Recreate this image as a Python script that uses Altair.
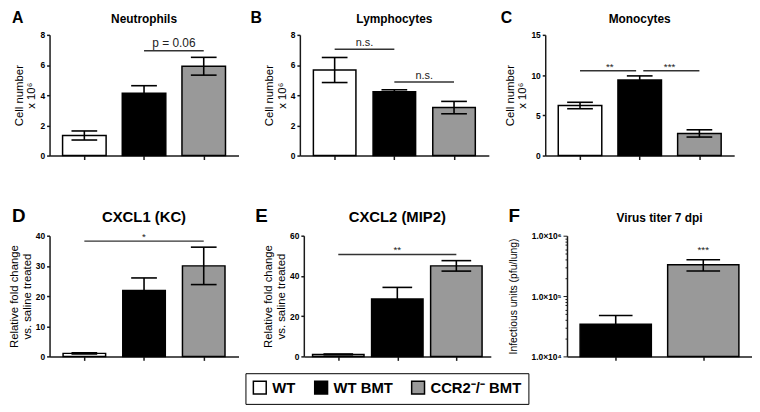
import altair as alt
import pandas as pd

FONT = "Liberation Sans"
AX = "#1a1a1a"

# ---------------- data ----------------
groups = ["WT", "WT BMT", "CCR2\u207b/\u207b BMT"]
group_colors = ["#ffffff", "#000000", "#999999"]

letters = ["A", "B", "C", "D", "E", "F"]
titles = ["Neutrophils", "Lymphocytes", "Monocytes", "CXCL1 (KC)", "CXCL2 (MIP2)", "Virus titer 7 dpi"]

neut_mean = [1.33, 4.13, 5.92]
neut_sem = [0.30, 0.50, 0.59]

lymph_mean = [5.67, 4.23, 3.18]
lymph_sem = [0.83, 0.13, 0.41]

mono_mean = [6.22, 9.40, 2.75]
mono_sem = [0.40, 0.50, 0.45]

cxcl1_mean = [1.0, 21.8, 30.0]
cxcl1_sem = [0.2, 4.2, 6.2]

cxcl2_mean = [1.0, 28.5, 45.0]
cxcl2_sem = [0.2, 5.8, 2.6]

virus_groups = ["WT BMT", "CCR2\u207b/\u207b BMT"]
virus_mean = [3.4e4, 3.3e5]
virus_sem = [1.35e4, 0.7e5]

# significance annotations: from x1 to x2 at y, label at lx
sig_A = {"x1": [1], "x2": [2], "y": [6.95], "label": ["p = 0.06"], "lx": [1.5]}
sig_B = {"x1": [0, 1], "x2": [1, 2], "y": [7.05, 4.87], "label": ["n.s.", "n.s."], "lx": [0.5, 1.5]}
sig_C = {"x1": [0, 1.06], "x2": [0.94, 2], "y": [10.55, 10.55], "label": ["**", "***"], "lx": [0.5, 1.5]}
sig_D = {"x1": [0], "x2": [2], "y": [38.2], "label": ["*"], "lx": [1]}
sig_E = {"x1": [0], "x2": [2], "y": [50.7], "label": ["**"], "lx": [1]}
sig_F = {"label": ["***"], "lx": [1], "y": [5.0e5]}

color_scale = alt.Scale(domain=groups, range=group_colors)
legend = alt.Legend(
    orient="none", legendX=198, legendY=342, direction="horizontal", title=None,
    strokeColor="black", padding=7, symbolType="square", symbolSize=169,
    symbolStrokeColor="black", symbolStrokeWidth=1.5, symbolOpacity=1,
    labelFont=FONT, labelFontSize=15, labelFontWeight="bold", labelColor="black",
    columnPadding=16, labelOffset=5,
)


def make_panel(letter, title, grp, mean, sem, ydomain, ytitle, width, height,
               bar_w, cap_w, letter_x, letter_size, title_size, title_pad, head_y,
               yticks=None, ylog=False, sig=None, sig_size=10, sig_dy=-1, title_font_size=11.5):
    n = len(grp)
    df = pd.DataFrame({
        "idx": list(range(n)), "group": grp, "mean": mean,
        "lo": [m - s for m, s in zip(mean, sem)],
        "hi": [m + s for m, s in zip(mean, sem)],
    })
    xscale = alt.Scale(domain=[-0.5, n - 0.5], nice=False, zero=False)
    xaxis = alt.Axis(values=list(range(n)), tickCount=n, labels=False, title=None, tickSize=4,
                     tickWidth=1.5, tickColor=AX, domainColor=AX, domainWidth=1.5, grid=False)
    yax = dict(title=ytitle, titleFont=FONT, titleFontSize=title_font_size, titleFontWeight="normal",
               titleColor="black", titlePadding=title_pad, titleLineHeight=13,
               labelFont=FONT, labelFontSize=8.5,
               labelFontWeight="bold", labelColor="black", labelPadding=2, tickSize=3,
               tickWidth=1.5, tickColor=AX, domainColor=AX, domainWidth=1.5, grid=False,
               labelOverlap=False)
    if ylog:
        yscale = alt.Scale(type="log", domain=ydomain, nice=False)
        is_pow = "abs(log(datum.value)/LN10 - round(log(datum.value)/LN10)) < 0.0001"
        yax["labelExpr"] = ("datum.value == 1000000 ? '1.0\u00d710\u2076' : datum.value == 100000 ? "
                            "'1.0\u00d710\u2075' : datum.value == 10000 ? '1.0\u00d710\u2074' : ''")
        yax["tickSize"] = {"condition": {"test": is_pow, "value": 4}, "value": 2}
        yax["tickWidth"] = 1
        yax["tickCount"] = 20
    else:
        yscale = alt.Scale(domain=ydomain, nice=False, zero=True)
        yax["values"] = yticks
        yax["tickCount"] = len(yticks)
    yaxis = alt.Axis(**yax)

    base = alt.Chart(df)
    bars = base.mark_bar(width=bar_w, stroke="black", strokeWidth=1.5).encode(
        x=alt.X("idx:Q", scale=xscale, axis=xaxis),
        y=alt.Y("mean:Q", scale=yscale, axis=yaxis),
        y2=alt.Y2(datum=ydomain[0]),
        color=alt.Color("group:N", scale=color_scale, legend=legend),
    )
    err = base.mark_rule(color="black", strokeWidth=1.6).encode(
        x="idx:Q", y="lo:Q", y2="hi:Q")
    cap_hi = base.mark_rule(color="black", strokeWidth=1.6, xOffset=-cap_w / 2,
                            x2Offset=cap_w / 2).encode(x="idx:Q", x2="idx:Q", y="hi:Q")
    cap_lo = base.mark_rule(color="black", strokeWidth=1.6, xOffset=-cap_w / 2,
                            x2Offset=cap_w / 2).encode(x="idx:Q", x2="idx:Q", y="lo:Q")
    layers = [bars, err, cap_hi, cap_lo]

    if sig is not None:
        sdf = pd.DataFrame(sig)
        if "x1" in sig:
            layers.append(alt.Chart(sdf).mark_rule(color="#333333", strokeWidth=1.5).encode(
                x="x1:Q", x2="x2:Q", y="y:Q"))
        layers.append(alt.Chart(sdf).mark_text(font=FONT, fontSize=sig_size, dy=sig_dy,
                                               baseline="alphabetic", color="#222222").encode(
            x="lx:Q", y="y:Q", text="label:N"))

    letter_df = pd.DataFrame({"t": [letter]})
    layers.append(alt.Chart(letter_df).mark_text(
        font=FONT, fontSize=letter_size, fontWeight="bold", align="left",
        baseline="alphabetic", color="black").encode(
        x=alt.value(letter_x), y=alt.value(head_y), text="t:N"))
    title_df = pd.DataFrame({"t": [title]})
    layers.append(alt.Chart(title_df).mark_text(
        font=FONT, fontSize=title_size, fontWeight="bold", align="center",
        baseline="alphabetic", color="black").encode(
        x=alt.value(width / 2), y=alt.value(head_y), text="t:N"))

    return alt.layer(*layers).properties(width=width, height=height)


cell = ["Cell number", "x 10\u2076"]
fold = ["Relative fold change", "vs. saline treated"]

pA = make_panel(letters[0], titles[0], groups, neut_mean, neut_sem, [0, 8], cell, 191, 122,
                44, 26, -38, 16, 12, 3, -12, yticks=[0, 2, 4, 6, 8], sig=sig_A, sig_size=12, sig_dy=-4)
pB = make_panel(letters[1], titles[1], groups, lymph_mean, lymph_sem, [0, 8], cell, 191, 122,
                43, 26, -50, 16, 12, 3, -12, yticks=[0, 2, 4, 6, 8], sig=sig_B, sig_size=11, sig_dy=-3)
pC = make_panel(letters[2], titles[2], groups, mono_mean, mono_sem, [0, 15], cell, 191, 122,
                44, 26, -45, 16, 12, 3, -12, yticks=[0, 5, 10, 15], sig=sig_C, sig_size=10, sig_dy=-1)
pD = make_panel(letters[3], titles[3], groups, cxcl1_mean, cxcl1_sem, [0, 40], fold, 191, 122,
                43, 26, -38, 19, 15, 3, -14, yticks=[0, 10, 20, 30, 40], sig=sig_D, sig_size=10,
                sig_dy=-1)
pE = make_panel(letters[4], titles[4], groups, cxcl2_mean, cxcl2_sem, [0, 60], fold, 189, 122,
                52, 30, -49, 19, 15, 3, -14, yticks=[0, 20, 40, 60], sig=sig_E, sig_size=10,
                sig_dy=-1)
pF = make_panel(letters[5], titles[5], virus_groups, virus_mean, virus_sem, [1e4, 1e6],
                "Infectious units (pfu/lung)", 187, 122, 72, 34, -59, 19, 12, 13, -14, ylog=True,
                sig=sig_F, sig_size=10, sig_dy=-1, title_font_size=10.5)

top = alt.hconcat(pA, pB, pC, spacing=12).resolve_scale(color="shared")
bottom = alt.hconcat(pD, pE, pF, spacing=17).resolve_scale(color="shared")

chart = alt.vconcat(top, bottom, spacing=47).resolve_scale(color="shared").properties(
    padding=0
).configure_view(stroke=None).configure_text(font=FONT)

chart.save("out.html", embed_options={"renderer": "svg", "actions": False})
